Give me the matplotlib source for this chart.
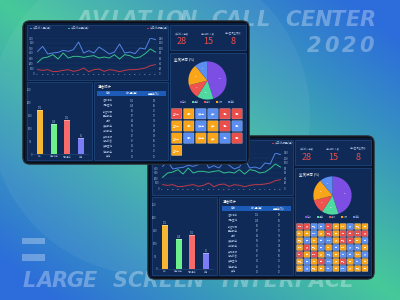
import numpy as np
import matplotlib.pyplot as plt
from matplotlib.patches import Rectangle, FancyBboxPatch, Circle
from matplotlib.colors import to_rgb

plt.rcParams['font.family'] = ['Noto Sans CJK SC', 'DejaVu Sans']

W, H = 400, 300

# ---- data ----
hours = [f'{i:02d}' for i in range(1, 25)]
calls_in = [433, 533, 380, 400, 413, 453, 433, 467, 620, 400, 447, 400,
            520, 453, 380, 420, 580, 400, 420, 387, 500, 480, 700, 667]
calls_out = [213, 300, 320, 367, 280, 400, 300, 333, 333, 313, 333, 347,
             300, 320, 300, 367, 280, 367, 347, 300, 320, 387, 480, 420]
calls_lost = [67, 53, 67, 27, 33, 53, 67, 33, 53, 100, 27, 67,
              80, 33, 67, 53, 27, 53, 67, 67, 80, 100, 147, 167]
legend_left = ['今日呼入量(通)', '今日呼出量(通)']
legend_right = '今日呼损量(通)'

bar_labels = ['呼入', '呼出转接', '内部通话', '咨询']
bar_values = [172, 118, 132, 61]

table_title = '通话统计'
table_head = ['名称', '呼入量(通)', '接通率(%)']
table_names = ['值机柜台', '行李查询', '航班动态', '票务服务', '投诉', '贵宾服务',
               '中转服务', '失物招领', '特殊旅客', '货运查询', '停车服务', '其他']
table_calls = [132, 118, 96, 87, 64, 58, 51, 47, 39, 33, 26, 18]
table_rate = [98, 96, 95, 97, 92, 99, 94, 93, 96, 91, 95, 90]

kpi_labels = ['今日呼入总数', '当前排队人数', '当前空闲坐席数']
kpi_values = [28, 15, 8]

pie_title = '坐席状态 (%)'
pie_labels = ['在线', '通话', '离线', '小休', '话后']
pie_values = [45, 14, 12, 18, 11]

tile_names = ['坐席一', '值机', '贵宾室', '安检', '行李', '问询']
tiles_front = ['robbrr',
               'oobarb',
               'oboobr',
               'o']
tiles_back = ['rrbbroobo o'.replace(' ', ''),
              'oobororrrr',
              'obobborrob',
              'orobobobbo',
              'rorobobbob',
              'oborborobo',
              'oboobobooo']

# ---- style ----
BLUE, GREEN, RED = '#5283e6', '#38c18c', '#c13a4b'
BAR_COLORS = ['#f7b733', '#6cf08c', '#f86b6b', '#7b7cf6']
PIE_COLORS = ['#7d4ee4', '#4fd9a0', '#ef5350', '#f9a51a', '#5b8ef0']
TILE = {'r': '#ea4f4c', 'o': '#f8a51c', 'b': '#5b8ef0', 'a': '#f8a51c'}
TXT = '#9fb6d9'
SCREEN = '#0a1c3d'
PANEL = '#0f2a56'
EDGE = '#1f4a80'


def frac(x, y, w, h):
    return [x / W, 1 - (y + h) / H, w / W, h / H]


def clean(ax):
    ax.patch.set_alpha(0)
    for s in ax.spines.values():
        s.set_visible(False)
    ax.tick_params(length=0, pad=0.8, labelsize=2, colors=TXT)


def draw_tablet(fig, x0, y0, tiles, z):
    fr = fig.add_axes(frac(x0, y0, 228, 145))
    fr.set_zorder(z)
    fr.set_xlim(0, 228)
    fr.set_ylim(145, 0)
    fr.axis('off')
    fr.add_patch(FancyBboxPatch((0.8, 0.8), 226.4, 143.4,
                                boxstyle='round,pad=0,rounding_size=7',
                                fc='#0b0f15', ec='#2c3644', lw=0.8))
    fr.add_patch(Rectangle((3.2, 3.2), 221.6, 138.6, fc=SCREEN, lw=0))
    for (px, py, pw, ph) in [(5, 5, 141, 55), (148, 5, 76, 25), (148, 33, 76, 107),
                             (5, 62, 65, 78), (72, 62, 74, 78)]:
        fr.add_patch(Rectangle((px, py), pw, ph, fc=PANEL, ec=EDGE, lw=0.5))

    # line chart
    for i, (c, lab) in enumerate(zip([BLUE, GREEN], legend_left)):
        fr.add_patch(Rectangle((8 + i * 38, 7.5), 1.8, 1.8, fc=c, lw=0))
        fr.text(10.5 + i * 38, 8.4, lab, fontsize=2, color=TXT, va='center')
    fr.add_patch(Rectangle((125, 7.5), 1.8, 1.8, fc=RED, lw=0))
    fr.text(127.5, 8.4, legend_right, fontsize=2, color=TXT, va='center')

    ax = fig.add_axes(frac(x0 + 13, y0 + 18, 123, 35))
    ax.set_zorder(z + 0.1)
    clean(ax)
    x = np.arange(len(hours))
    ax.plot(x, calls_in, color=BLUE, lw=0.7)
    ax.plot(x, calls_out, color=GREEN, lw=0.7)
    ax.plot(x, calls_lost, color=RED, lw=0.7)
    ax.set_xlim(-0.5, len(hours) - 0.5)
    ax.set_ylim(0, 700)
    ax.set_yticks(range(0, 701, 100))
    ax.set_xticks(x)
    ax.set_xticklabels(hours, fontsize=1.7)
    ax.grid(axis='y', color='#1b3b6a', lw=0.3)
    ax.set_axisbelow(True)
    ax2 = ax.twinx()
    ax2.set_zorder(z + 0.1)
    clean(ax2)
    ax2.set_ylim(0, 140)
    ax2.set_yticks(range(0, 141, 20))

    # bars
    bx = fig.add_axes(frac(x0 + 11, y0 + 70, 55, 64))
    bx.set_zorder(z + 0.1)
    clean(bx)
    bx.spines['bottom'].set_visible(True)
    bx.spines['bottom'].set_color('#2a4f80')
    bx.spines['bottom'].set_linewidth(0.4)
    bx.bar(range(4), bar_values, width=0.45, color=BAR_COLORS)
    for i, v in enumerate(bar_values):
        bx.bar(i, 4, bottom=v - 4, width=0.45, color='white', alpha=0.35)
        bx.text(i, v + 4, str(v), fontsize=1.8, color=TXT, ha='center')
    bx.set_xlim(-0.5, 3.5)
    bx.set_ylim(0, 250)
    bx.set_yticks(range(0, 251, 50))
    bx.set_xticks(range(4))
    bx.set_xticklabels(bar_labels, fontsize=1.5)

    # table
    fr.text(76, 67, table_title, fontsize=2.5, color='white', va='center')
    fr.add_patch(Rectangle((75, 71), 69, 4.6, fc='#1c5bb8', lw=0))
    cols = [86, 110, 132]
    for cx, h in zip(cols, table_head):
        fr.text(cx, 73.3, h, fontsize=1.8, color='white', ha='center', va='center')
    for i in range(len(table_names)):
        yy = 80.5 + i * 5.1
        for cx, val in zip(cols, [table_names[i], table_calls[i], table_rate[i]]):
            fr.text(cx, yy, str(val), fontsize=1.8, color=TXT, ha='center', va='center')

    # kpi
    for cx, lab, v in zip([160, 186, 211], kpi_labels, kpi_values):
        fr.text(cx, 13.5, lab, fontsize=1.7, color=TXT, ha='center', va='center')
        fr.text(cx, 22, str(v), fontsize=6.5, color='#ef4b4b', ha='center', va='center')

    # pie
    fr.text(152, 40, pie_title, fontsize=2.5, color='white', va='center')
    px = fig.add_axes(frac(x0 + 166, y0 + 41, 39, 39))
    px.set_zorder(z + 0.1)
    px.pie(pie_values, colors=PIE_COLORS, startangle=90, counterclock=False,
           wedgeprops=dict(lw=0), autopct='%d', pctdistance=0.65,
           textprops=dict(fontsize=1.6, color='white'))
    px.set_xlim(-1.02, 1.02)
    px.set_ylim(-1.02, 1.02)
    for i, (c, lab) in enumerate(zip(PIE_COLORS, pie_labels)):
        lx = 158 + i * 12
        fr.add_patch(Rectangle((lx, 81.2), 1.6, 1.6, fc=c, lw=0))
        fr.text(lx + 2.2, 82, lab, fontsize=1.8, color=TXT, va='center')

    # tiles
    ncols = max(len(r) for r in tiles)
    pitch_x = 72.5 / ncols
    pitch_y = 12.2 if ncols <= 6 else 7.0
    size_x = pitch_x * 0.86
    size_y = pitch_y * 0.86
    k = 0
    for r, row in enumerate(tiles):
        for c, code in enumerate(row):
            tx = 149.5 + c * pitch_x
            ty = 88.5 + r * pitch_y
            fr.add_patch(FancyBboxPatch((tx, ty), size_x, size_y,
                                        boxstyle='round,pad=0,rounding_size=0.6',
                                        fc=TILE[code], ec='white', lw=0.15))
            fr.text(tx + size_x / 2, ty + size_y / 2, tile_names[k % len(tile_names)],
                    fontsize=1.6 if ncols <= 6 else 0.9, color='white',
                    ha='center', va='center')
            k += 1


fig = plt.figure(figsize=(4, 3), dpi=100)

# background gradient
bg = fig.add_axes([0, 0, 1, 1])
bg.set_zorder(0)
u, v = np.meshgrid(np.linspace(0, 1, 400), np.linspace(0, 1, 300))
t = np.clip(np.abs(u - v) * 1.15, 0, 1)[..., None]
green = np.array(to_rgb('#47c99a'))
blue = np.array(to_rgb('#2c6ddb'))
img = green * (1 - t) + blue * t
bg.imshow(img, extent=[0, 400, 300, 0], aspect='auto')
bg.add_patch(Circle((150, 115), 160, fc='white', alpha=0.05, lw=0))
bg.set_xlim(0, 400)
bg.set_ylim(300, 0)
bg.axis('off')


def spaced(text, x_start, pitch, y):
    for i, ch in enumerate(text):
        bg.text(x_start + (i + 0.5) * pitch, y, ch, fontsize=15, fontweight='bold',
                style='italic', family='DejaVu Sans', color='white', alpha=0.3,
                ha='center', va='center')


spaced('AVIATION CALL CENTER', 77, 14.9, 19.5)
spaced('2020', 305, 17.5, 46.5)
spaced('LARGE SCREEN INTERFACE', 22, 15.1, 281)
bg.add_patch(Rectangle((22, 238), 23, 6, fc='white', alpha=0.3, lw=0))
bg.add_patch(Rectangle((22, 254), 23, 7, fc='white', alpha=0.3, lw=0))

draw_tablet(fig, 147, 135, tiles_back, 1)
draw_tablet(fig, 22, 20, tiles_front, 3)

fig.savefig('out.png', dpi=100)
